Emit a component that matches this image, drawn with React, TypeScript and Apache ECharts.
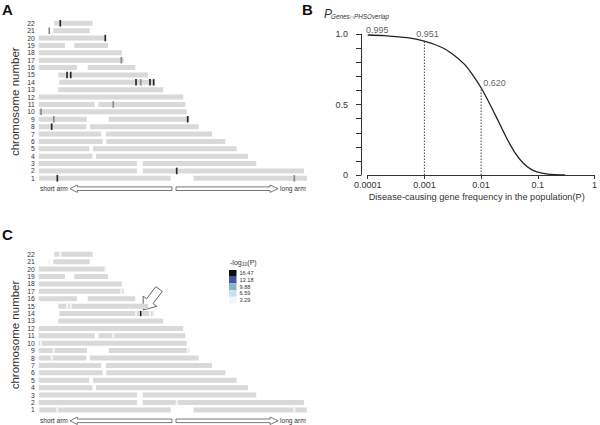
import React, { useEffect, useRef } from 'react';
import * as echarts from 'echarts';

// ---------- Data ----------
const chromosomes = ['1','2','3','4','5','6','7','8','9','10','11','12','13','14','15','16','17','18','19','20','21','22'];

// chromosome arm segments (Mb)
const armChr   = [1, 1, 2, 2, 3, 3, 4, 4, 5, 5, 6, 6, 7, 7, 8, 8, 9, 9, 10, 11, 11, 12, 13, 14, 15, 16, 16, 17, 18, 19, 19, 20, 21, 22];
const armStart = [0.5, 142, 0, 95.4, 0, 95.4, 0, 52.6, 0, 49.8, 0, 62, 0, 61.5, 0, 47.1, 0, 64.2, 0, 0, 54.7, 0, 18, 18.9, 18, 0, 45, 0, 0, 0, 32.7, 0, 13.4, 14.3];
const armEnd   = [121, 246, 90.2, 243.4, 90.2, 199.6, 49.2, 192, 46.4, 181.7, 58.7, 171.2, 57.4, 159, 43.7, 146.8, 44.3, 138.2, 135.8, 51.4, 134.5, 132.6, 114.3, 106, 100.3, 35.1, 88.6, 78, 76.2, 24.1, 63.6, 61.7, 46.8, 49.5];

// marked loci
const markChr   = [22, 21, 20, 17, 15, 15, 14, 14, 14, 14, 11, 10, 9, 9, 8, 2, 1, 1];
const markPos   = [19.8, 9.7, 61.1, 75.8, 26, 29.4, 89.3, 93.6, 102.1, 105.5, 68.4, 2.1, 13.8, 136.7, 11.9, 126.6, 17.1, 234.5];
const markToneA = ['dark', 'grey', 'dark', 'grey', 'dark', 'dark', 'dark', 'grey', 'dark', 'dark', 'grey', 'grey', 'grey', 'dark', 'dark', 'dark', 'dark', 'grey'];
const markLogP  = [3.3, 3.3, 3.3, 3.3, 3.3, 3.3, 3.3, 16.47, 3.3, 3.3, 3.3, 3.3, 3.3, 3.3, 3.3, 3.3, 3.3, 3.3];

// legend of panel C
const legendBreaks = [16.47, 13.18, 9.88, 6.59, 3.29];
const legendColors = ['#0d0d0d', '#4255a6', '#86b6c6', '#c9e1ea', '#f1f7f9'];

// panel B curve
const freqP  = [0.0001, 0.0002, 0.0005, 0.001, 0.002, 0.003, 0.005, 0.007, 0.01, 0.014, 0.02, 0.028, 0.04, 0.055, 0.075, 0.1, 0.15, 0.2, 0.3];
const probV  = [0.995, 0.99, 0.976, 0.951, 0.908, 0.866, 0.79, 0.716, 0.62, 0.51, 0.385, 0.265, 0.155, 0.085, 0.042, 0.02, 0.006, 0.002, 0.0];
const notedP = [0.0001, 0.001, 0.01];
const notedV = [0.995, 0.951, 0.620];
const notedLabels = ['0.995', '0.951', '0.620'];
const xTickLabels = ['0.0001', '0.001', '0.01', '0.1', '1'];

const FONT = 'Liberation Sans, Arial, Helvetica, sans-serif';
const BAR_GREY = '#d9d9d9';

function colorForLogP(v: number) {
  for (let i = 0; i < legendBreaks.length; i++) {
    if (v >= legendBreaks[i] - 1e-9) return legendColors[i];
  }
  return legendColors[legendColors.length - 1];
}

const armData = armChr.map((c, i) => [c - 1, armStart[i], armEnd[i]]);
const markDataA = markChr.map((c, i) => [c - 1, markPos[i], markToneA[i] === 'dark' ? 1 : 0]);
const markDataC = markChr.map((c, i) => [c - 1, markPos[i], markLogP[i]]);

function armRender(params: any, api: any) {
  const row = api.value(0);
  const p1 = api.coord([api.value(1), row]);
  const p2 = api.coord([api.value(2), row]);
  const h = 5;
  return { type: 'rect', shape: { x: p1[0], y: p1[1] - h / 2, width: p2[0] - p1[0], height: h }, style: { fill: BAR_GREY } };
}
function markRenderA(params: any, api: any) {
  const p = api.coord([api.value(1), api.value(0)]);
  const dark = api.value(2) === 1;
  const w = 1.7, h = 6.5;
  return { type: 'rect', shape: { x: p[0] - w / 2, y: p[1] - h / 2, width: w, height: h }, style: { fill: dark ? '#2a2a2a' : '#8c8c8c' } };
}
function markRenderC(params: any, api: any) {
  const p = api.coord([api.value(1), api.value(0)]);
  const v = api.value(2);
  const w = v > 6 ? 1.3 : 2, h = 5.4;
  return { type: 'rect', shape: { x: p[0] - w / 2, y: p[1] - h / 2, width: w, height: h }, style: { fill: colorForLogP(v) } };
}

function hollowArrowLeft(x1: number, x2: number, cy: number) {
  return { type: 'polygon', shape: { points: [[x1, cy], [x1 + 7.3, cy - 3.7], [x1 + 7.3, cy - 1.8], [x2, cy - 1.8], [x2, cy + 1.8], [x1 + 7.3, cy + 1.8], [x1 + 7.3, cy + 3.7]] }, style: { fill: '#fff', stroke: '#555', lineWidth: 0.8 } };
}
function hollowArrowRight(x1: number, x2: number, cy: number) {
  return { type: 'polygon', shape: { points: [[x1, cy - 1.8], [x2 - 8, cy - 1.8], [x2 - 8, cy - 3.7], [x2, cy], [x2 - 8, cy + 3.7], [x2 - 8, cy + 1.8], [x1, cy + 1.8]] }, style: { fill: '#fff', stroke: '#555', lineWidth: 0.8 } };
}
function pointerArrow(tipX: number, tipY: number, tailX: number, tailY: number) {
  const dx = tailX - tipX, dy = tailY - tipY;
  const L = Math.sqrt(dx * dx + dy * dy);
  const ux = dx / L, uy = dy / L; // along towards tail
  const nx = -uy, ny = ux;
  const headL = 11, headW = 8.5, shaftW = 4;
  const P = (a: number, b: number) => [tipX + ux * a + nx * b, tipY + uy * a + ny * b];
  return { type: 'polygon', shape: { points: [P(0, 0), P(headL, headW), P(headL, shaftW), P(L, shaftW), P(L, -shaftW), P(headL, -shaftW), P(headL, -headW)] }, style: { fill: '#fff', stroke: '#555', lineWidth: 0.9 } };
}

function txt(x: number, y: number, text: string, size: number, opts: any = {}) {
  return { type: 'text', x, y, rotation: opts.rotation || 0, style: { text, fontSize: size, fontFamily: FONT, fill: opts.fill || '#333', align: opts.align || 'left', verticalAlign: opts.va || 'middle', fontWeight: opts.weight || 'normal', fontStyle: opts.style || 'normal' } };
}

export default function App() {
  const ref = useRef<HTMLDivElement>(null);
  useEffect(() => {
    if (!ref.current) return;
    const chart = echarts.init(ref.current, undefined, { renderer: 'svg' });

    const chromYAxis = (gi: number) => ({
      type: 'category', gridIndex: gi, data: chromosomes,
      axisLine: { show: false }, axisTick: { show: false },
      axisLabel: { fontSize: 6.8, color: '#333', fontFamily: FONT, margin: 4, interval: 0 },
    });
    const chromXAxis = (gi: number) => ({ type: 'value', gridIndex: gi, min: 0, max: 250, show: false });

    const legendEls: any[] = [];
    const boxTop = 270, boxH = 6.7;
    legendBreaks.forEach((b, i) => {
      legendEls.push({ type: 'rect', shape: { x: 229, y: boxTop + i * boxH, width: 7.5, height: boxH }, style: { fill: legendColors[i] } });
      legendEls.push(txt(239.5, boxTop + i * boxH + boxH / 2, b.toFixed(2), 5.6, { fill: '#333' }));
    });

    const option: any = {
      animation: false,
      backgroundColor: '#fff',
      grid: [
        { left: 38.7, top: 19.6, width: 272.5, height: 162.4 },
        { left: 367.7, top: 34.3, width: 230.6, height: 140.7 },
        { left: 38.7, top: 250.6, width: 272.5, height: 163 },
      ],
      xAxis: [
        chromXAxis(0),
        {
          type: 'log', gridIndex: 1, logBase: 10, min: 0.0001, max: 1, offset: 2,
          axisLine: { show: true, lineStyle: { color: '#333', width: 1 } },
          axisTick: { show: true, length: 4, lineStyle: { color: '#333' } },
          minorTick: { show: false }, splitLine: { show: false },
          axisLabel: {
            fontSize: 9, color: '#333', fontFamily: FONT, margin: 3,
            formatter: (v: number) => { const e = Math.round(Math.log10(v)); return xTickLabels[e + 4] ?? ''; },
          },
        },
        chromXAxis(2),
      ],
      yAxis: [
        chromYAxis(0),
        {
          type: 'value', gridIndex: 1, min: 0, max: 1, interval: 0.1, offset: 6.7,
          axisLine: { show: true, lineStyle: { color: '#333', width: 1 } },
          axisTick: { show: true, length: 5, lineStyle: { color: '#333' } },
          splitLine: { show: false },
          axisLabel: {
            fontSize: 9, color: '#333', fontFamily: FONT, margin: 13,
            formatter: (v: number) => Math.abs(v - 1) < 1e-6 ? '1.0' : Math.abs(v - 0.5) < 1e-6 ? '0.5' : Math.abs(v) < 1e-6 ? '0' : '',
          },
        },
        chromYAxis(2),
      ],
      series: [
        { type: 'custom', xAxisIndex: 0, yAxisIndex: 0, renderItem: armRender, data: armData, encode: { x: [1, 2], y: 0 } },
        { type: 'custom', xAxisIndex: 0, yAxisIndex: 0, renderItem: markRenderA, data: markDataA, encode: { x: 1, y: 0 } },
        { type: 'custom', xAxisIndex: 2, yAxisIndex: 2, renderItem: armRender, data: armData, encode: { x: [1, 2], y: 0 } },
        { type: 'custom', xAxisIndex: 2, yAxisIndex: 2, renderItem: markRenderC, data: markDataC, encode: { x: 1, y: 0 } },
        {
          type: 'line', xAxisIndex: 1, yAxisIndex: 1, data: freqP.map((p, i) => [p, probV[i]]),
          smooth: 0.3, showSymbol: false, symbol: 'none',
          lineStyle: { color: '#222', width: 1.3 },
        },
        ...notedP.slice(1).map((p, k) => ({
          type: 'line', xAxisIndex: 1, yAxisIndex: 1, data: [[p, 0], [p, notedV[k + 1]]],
          showSymbol: false, symbol: 'none', lineStyle: { color: '#444', width: 1, type: [1.5, 1.5] },
        })),
        {
          type: 'scatter', xAxisIndex: 1, yAxisIndex: 1, symbolSize: 1, itemStyle: { color: 'rgba(0,0,0,0)' },
          data: notedP.map((p, i) => ({
            value: [p, notedV[i]],
            label: { show: true, position: 'inside', formatter: notedLabels[i], fontSize: 9, color: '#333', fontFamily: FONT, offset: [[9.5, -5.5], [3, -7], [13.4, -5]][i] },
          })),
        },
      ],
      graphic: [
        txt(2, 9, 'A', 15, { weight: 'bold', fill: '#111' }),
        txt(302, 9, 'B', 15, { weight: 'bold', fill: '#111' }),
        txt(2, 234, 'C', 15, { weight: 'bold', fill: '#111' }),
        txt(15, 101.7, 'chromosome number', 11.5, { rotation: Math.PI / 2, align: 'center' }),
        txt(15, 335, 'chromosome number', 11.5, { rotation: Math.PI / 2, align: 'center' }),
        txt(40, 188.7, 'short arm', 6.6),
        txt(280, 188.7, 'long arm', 6.6),
        txt(40, 420.8, 'short arm', 6.6),
        txt(280, 420.8, 'long arm', 6.6),
        hollowArrowLeft(70, 172, 188.7),
        hollowArrowRight(176, 278, 188.7),
        hollowArrowLeft(70, 172, 420.8),
        hollowArrowRight(176, 278, 420.8),
        pointerArrow(143.3, 310, 159, 289),
        txt(476.7, 196.7, 'Disease-causing gene frequency in the population(P)', 9.2, { align: 'center' }),
        txt(324, 13.5, 'P', 12, { style: 'italic' }),
        txt(331, 16, 'Genes∩PHSOverlap', 6.3, { style: 'italic' }),
        txt(230, 262.5, '-log', 7),
        txt(241.7, 264, '10', 5),
        txt(247.3, 262.5, '(P)', 7),
        ...legendEls,
      ],
    };
    chart.setOption(option);
    return () => chart.dispose();
  }, []);
  return <div ref={ref} style={{ position: 'absolute', left: 0, top: 0, width: 600, height: 425 }} />;
}
